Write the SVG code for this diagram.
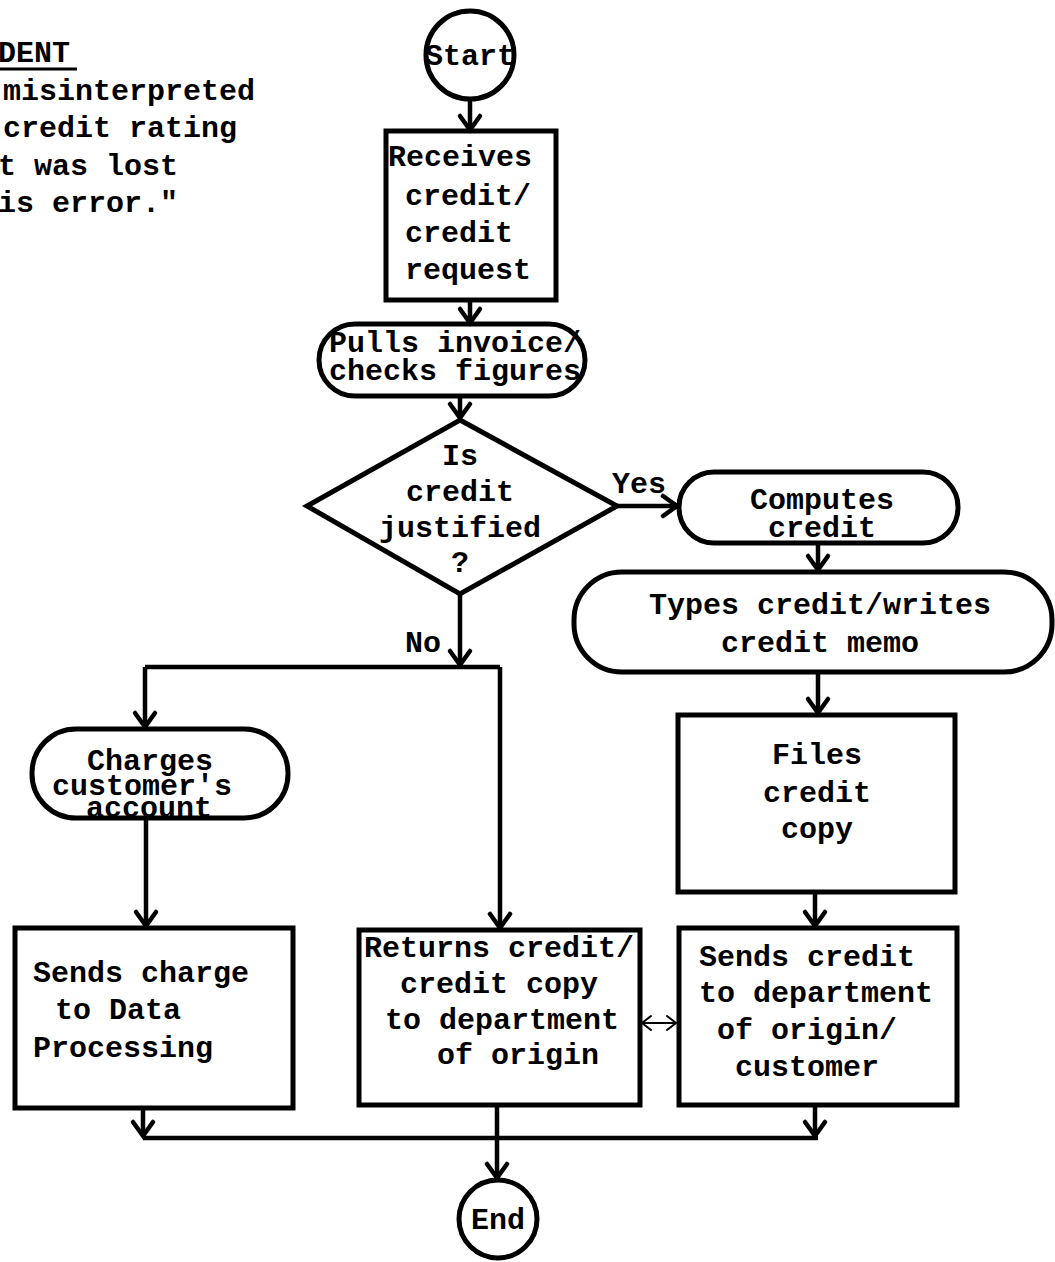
<svg xmlns="http://www.w3.org/2000/svg" width="1055" height="1262" viewBox="0 0 1055 1262">
  <style>
    .shape { fill: none; stroke: #000; stroke-width: 5; stroke-linejoin: miter; }
    .wire { fill: none; stroke: #000; stroke-width: 4.5; }
    .thin { fill: none; stroke: #000; stroke-width: 2; }
    text { font-family: "Liberation Mono", "DejaVu Sans Mono", monospace; font-size: 30px; fill: #000; font-weight: bold; }
    .mid { text-anchor: middle; }
  </style>
  <defs>
    <marker id="ah" viewBox="-16 -12 18 24" refX="0" refY="0" markerWidth="18" markerHeight="24" markerUnits="userSpaceOnUse" orient="auto" overflow="visible">
      <path d="M-14,-10 L0,0 L-14,10" fill="none" stroke="#000" stroke-width="4.5" stroke-linecap="round"/>
    </marker>
    <marker id="ahs" viewBox="-10 -8 12 16" refX="0" refY="0" markerWidth="12" markerHeight="16" markerUnits="userSpaceOnUse" orient="auto-start-reverse" overflow="visible">
      <path d="M-9,-7 L0,0 L-9,7" fill="none" stroke="#000" stroke-width="2" stroke-linecap="round"/>
    </marker>
  </defs>

  <rect width="1055" height="1262" fill="#fff"/>

  <!-- note block at top left -->
  <g id="note">
    <text x="-2" y="62">DENT</text>
    <line x1="0" y1="69" x2="77" y2="69" stroke="#000" stroke-width="3"/>
    <text x="3" y="100">misinterpreted</text>
    <text x="3" y="137">credit rating</text>
    <text x="-2" y="175">t was lost</text>
    <text x="-2" y="212">is error."</text>
  </g>

  <!-- connectors -->
  <g id="connectors">
    <path class="wire" d="M470,99 V130" marker-end="url(#ah)"/>
    <path class="wire" d="M470,300 V323" marker-end="url(#ah)"/>
    <path class="wire" d="M460,397 V418" marker-end="url(#ah)"/>
    <path class="wire" d="M617,506 H677" marker-end="url(#ah)"/>
    <path class="wire" d="M818,543 V570" marker-end="url(#ah)"/>
    <path class="wire" d="M818,672 V713" marker-end="url(#ah)"/>
    <path class="wire" d="M815,892 V926" marker-end="url(#ah)"/>
    <path class="wire" d="M460,594 V665" marker-end="url(#ah)"/>
    <path class="wire" d="M145,667 H500"/>
    <path class="wire" d="M145,667 V727" marker-end="url(#ah)"/>
    <path class="wire" d="M500,667 V928" marker-end="url(#ah)"/>
    <path class="wire" d="M146,818 V926" marker-end="url(#ah)"/>
    <path class="thin" d="M642,1023 H676" marker-start="url(#ahs)" marker-end="url(#ahs)"/>
    <path class="wire" d="M143,1108 V1136" marker-end="url(#ah)"/>
    <path class="wire" d="M815,1105 V1136" marker-end="url(#ah)"/>
    <path class="wire" d="M143,1138 H818"/>
    <path class="wire" d="M497,1105 V1178" marker-end="url(#ah)"/>
    <text x="612" y="493">Yes</text>
    <text x="405" y="652">No</text>
  </g>

  <g id="start">
    <circle class="shape" cx="470" cy="55" r="44"/>
    <text class="mid" x="470" y="65">Start</text>
  </g>

  <g id="receives">
    <rect class="shape" x="386" y="131" width="170" height="169"/>
    <text x="388" y="166">Receives</text>
    <text x="405" y="205">credit/</text>
    <text x="405" y="242">credit</text>
    <text x="405" y="279">request</text>
  </g>

  <g id="pulls">
    <rect class="shape" x="319" y="324" width="266" height="72" rx="36"/>
    <text class="mid" x="455" y="352">Pulls invoice/</text>
    <text class="mid" x="455" y="380">checks figures</text>
  </g>

  <g id="decision">
    <polygon class="shape" points="460,420 617,506 460,594 307,506"/>
    <text class="mid" x="460" y="465">Is</text>
    <text class="mid" x="460" y="501">credit</text>
    <text class="mid" x="460" y="537">justified</text>
    <text class="mid" x="460" y="572">?</text>
  </g>

  <g id="computes">
    <rect class="shape" x="679" y="472" width="279" height="71" rx="35"/>
    <text class="mid" x="822" y="509">Computes</text>
    <text class="mid" x="822" y="537">credit</text>
  </g>

  <g id="types">
    <rect class="shape" x="574" y="572" width="478" height="100" rx="48"/>
    <text class="mid" x="820" y="614">Types credit/writes</text>
    <text class="mid" x="820" y="652">credit memo</text>
  </g>

  <g id="files">
    <rect class="shape" x="678" y="715" width="277" height="177"/>
    <text class="mid" x="817" y="764">Files</text>
    <text class="mid" x="817" y="802">credit</text>
    <text class="mid" x="817" y="838">copy</text>
  </g>

  <g id="sends-credit">
    <rect class="shape" x="679" y="928" width="278" height="177"/>
    <text x="699" y="966">Sends credit</text>
    <text x="699" y="1002">to department</text>
    <text x="717" y="1039">of origin/</text>
    <text x="735" y="1076">customer</text>
  </g>

  <g id="charges">
    <rect class="shape" x="32" y="729" width="256" height="89" rx="44"/>
    <text class="mid" x="150" y="770">Charges</text>
    <text class="mid" x="142" y="795">customer's</text>
    <text class="mid" x="149" y="817">account</text>
  </g>

  <g id="sends-charge">
    <rect class="shape" x="15" y="928" width="278" height="180"/>
    <text x="33" y="982">Sends charge</text>
    <text x="55" y="1019">to Data</text>
    <text x="33" y="1057">Processing</text>
  </g>

  <g id="returns">
    <rect class="shape" x="359" y="930" width="281" height="175"/>
    <text x="364" y="957">Returns credit/</text>
    <text x="400" y="993">credit copy</text>
    <text x="385" y="1029">to department</text>
    <text x="437" y="1064">of origin</text>
  </g>

  <g id="end">
    <circle class="shape" cx="498" cy="1219" r="39"/>
    <text class="mid" x="498" y="1229">End</text>
  </g>
</svg>
